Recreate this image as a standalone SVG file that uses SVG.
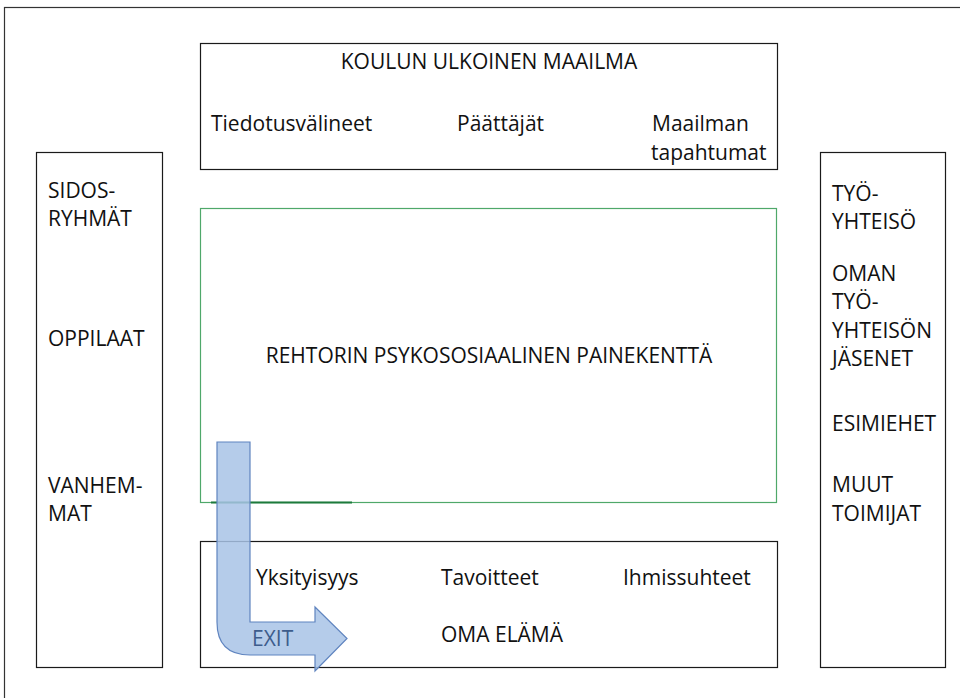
<svg xmlns="http://www.w3.org/2000/svg" width="960" height="698" viewBox="0 0 960 698">
  <style>
    .box { fill: #ffffff; stroke: #1a1a1a; stroke-width: 1.2; }
    .field { fill: none; stroke: #4fa86a; stroke-width: 1.2; }
    text { font-family: "Open Sans", "Liberation Sans", sans-serif; font-size: 21px; fill: #111111; }
    .mid { text-anchor: middle; }
    .exit { fill: #3d5c8c; }
  </style>

  <!-- outer frame (runs off the right and bottom edges) -->
  <rect id="frame" x="4.5" y="7.5" width="980" height="720" fill="#ffffff" stroke="#333333" stroke-width="1.2"/>

  <g id="external-world">
    <rect class="box" x="200.5" y="43.5" width="577" height="126"/>
    <text class="mid" x="489" y="69">KOULUN ULKOINEN MAAILMA</text>
    <text x="211" y="131">Tiedotusvälineet</text>
    <text x="457" y="131">Päättäjät</text>
    <text x="652" y="131">Maailman</text>
    <text x="651" y="160">tapahtumat</text>
  </g>

  <g id="stakeholders">
    <rect class="box" x="36.5" y="152.5" width="126" height="515"/>
    <text x="48" y="198">SIDOS-</text>
    <text x="48" y="226">RYHMÄT</text>
    <text x="48" y="346">OPPILAAT</text>
    <text x="48" y="493">VANHEM-</text>
    <text x="48" y="521">MAT</text>
  </g>

  <g id="work-community">
    <rect class="box" x="820.5" y="152.5" width="125" height="515"/>
    <text x="832" y="201">TYÖ-</text>
    <text x="832" y="229">YHTEISÖ</text>
    <text x="832" y="281">OMAN</text>
    <text x="832" y="309">TYÖ-</text>
    <text x="832" y="338">YHTEISÖN</text>
    <text x="832" y="366">JÄSENET</text>
    <text x="832" y="431">ESIMIEHET</text>
    <text x="832" y="492">MUUT</text>
    <text x="832" y="521">TOIMIJAT</text>
  </g>

  <g id="pressure-field">
    <rect class="field" x="200.5" y="208.5" width="576" height="294"/>
    <line x1="211" y1="502.5" x2="352" y2="502.5" stroke="#1d7a3c" stroke-width="2"/>
    <text class="mid" x="489" y="363">REHTORIN PSYKOSOSIAALINEN PAINEKENTTÄ</text>
  </g>

  <g id="own-life">
    <rect class="box" x="200.5" y="541.5" width="577" height="126"/>
    <text x="256" y="585">Yksityisyys</text>
    <text x="441" y="585">Tavoitteet</text>
    <text x="623" y="585">Ihmissuhteet</text>
    <text x="441" y="642">OMA ELÄMÄ</text>
  </g>

  <g id="connectors">
    <!-- bent exit arrow -->
    <path d="M217,442 H250 V622 H315 V607 L347,638.5 L315,671 V655 H250 Q217,655 217,622 Z"
          fill="#a8c3e6" fill-opacity="0.85" stroke="#5f84bf" stroke-width="1.2" stroke-linejoin="miter"/>
    <text class="exit" x="252" y="646">EXIT</text>
  </g>
</svg>
